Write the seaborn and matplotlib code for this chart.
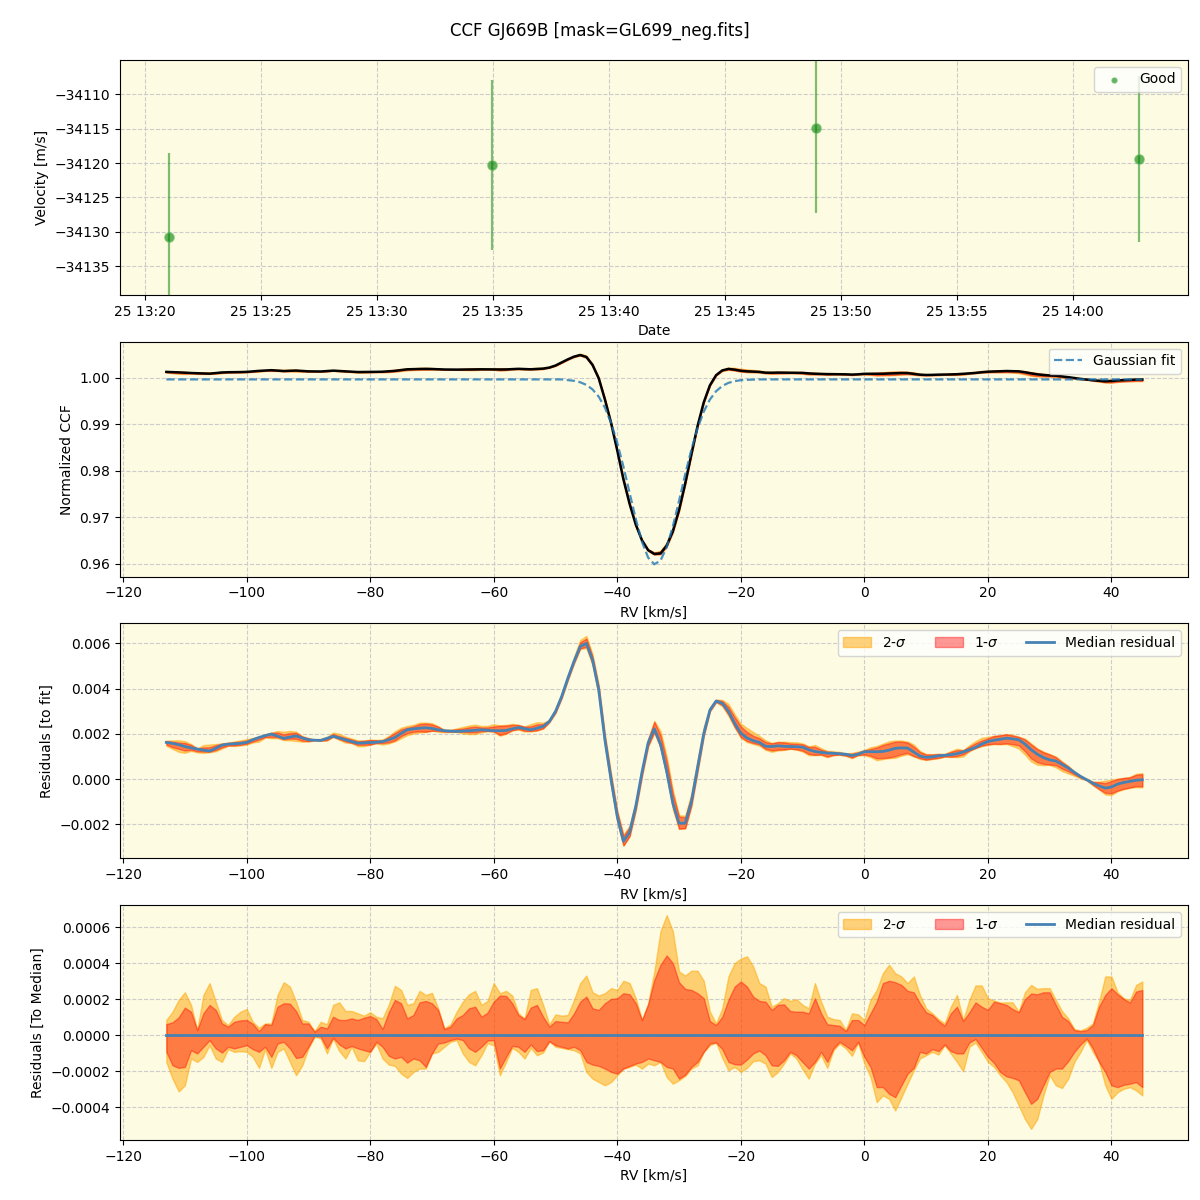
import numpy as np
import pandas as pd
import matplotlib
matplotlib.use("Agg")
import matplotlib.pyplot as plt
import matplotlib.dates as mdates
import seaborn as sns

# ---------------- data ----------------
title = "CCF GJ669B [mask=GL699_neg.fits]"

obs_times = ["2023-06-25 13:21:02", "2023-06-25 13:34:58",
             "2023-06-25 13:48:55", "2023-06-25 14:02:51"]
velocity = [-34130.8, -34120.3, -34114.9, -34119.4]
velocity_err = [12.2, 12.3, 12.3, 12.1]

rv_start, rv_stop = -113, 45          # RV grid (km/s), 1 km/s step

gauss_dip = [0.99949, 0.99933, 0.99902, 0.99846, 0.99748, 0.99592, 0.99358, 0.99028,
             0.98600, 0.98086, 0.97520, 0.96958, 0.96472, 0.96129, 0.95986, 0.96064,
             0.96351, 0.96801, 0.97348, 0.97920, 0.98454, 0.98910, 0.99269, 0.99531,
             0.99709, 0.99822, 0.99889, 0.99926, 0.99946, 0.99955, 0.99960]
gauss_fit = [0.99963] * 65 + gauss_dip + [0.99963] * 63

# median residual to the fit (units of 1e-3)
median_resid = [
    1.62, 1.58, 1.52, 1.44, 1.38, 1.33, 1.28, 1.24, 1.36, 1.50,
    1.55, 1.56, 1.58, 1.62, 1.74, 1.84, 1.92, 1.99, 1.90, 1.80,
    1.86, 1.91, 1.82, 1.74, 1.72, 1.71, 1.80, 1.89, 1.82, 1.74,
    1.66, 1.59, 1.60, 1.62, 1.63, 1.66, 1.74, 1.84, 2.02, 2.18,
    2.22, 2.25, 2.27, 2.24, 2.18, 2.14, 2.12, 2.11, 2.12, 2.14,
    2.16, 2.18, 2.16, 2.14, 2.14, 2.15, 2.22, 2.28, 2.23, 2.18,
    2.25, 2.33, 2.55, 2.99, 3.65, 4.46, 5.20, 5.86, 6.00, 5.27,
    3.95, 1.74, -0.03, -1.65, -2.75, -2.35, -1.20, 0.30, 1.60, 2.22,
    1.55, 0.35, -1.06, -1.95, -1.95, -1.00, 0.50, 2.00, 3.05, 3.45,
    3.35, 3.00, 2.47, 2.03, 1.82, 1.70, 1.62, 1.45, 1.44, 1.47,
    1.45, 1.44, 1.43, 1.41, 1.30, 1.22, 1.18, 1.15, 1.14, 1.12,
    1.10, 1.04, 1.10, 1.21, 1.21, 1.21, 1.22, 1.28, 1.36, 1.38,
    1.37, 1.20, 1.02, 0.96, 0.98, 1.03, 1.05, 1.08, 1.12, 1.20,
    1.30, 1.40, 1.55, 1.66, 1.72, 1.76, 1.81, 1.78, 1.74, 1.55,
    1.30, 1.10, 0.95, 0.85, 0.80, 0.65, 0.49, 0.30, 0.12, -0.03,
    -0.18, -0.30, -0.40, -0.35, -0.22, -0.15, -0.10, -0.05, -0.03]

# spread around the median (units of 1e-4)
hi2 = [
    0.84, 1.30, 1.96, 2.38, 1.68, 0.28, 2.23, 2.89, 1.86, 0.84,
    0.56, 1.02, 1.30, 1.45, 0.74, 0.41, 0.65, 0.65, 2.23, 2.94,
    2.70, 1.86, 0.84, 0.74, 0.22, 0.74, 0.60, 1.68, 1.82, 1.34,
    1.34, 1.21, 1.08, 1.27, 1.02, 0.93, 1.68, 2.74, 2.51, 1.68,
    1.77, 2.46, 2.23, 2.35, 1.49, 0.37, 0.60, 1.30, 1.86, 2.27,
    2.46, 1.68, 1.90, 2.89, 2.33, 2.46, 2.20, 1.21, 0.93, 2.51,
    2.61, 1.68, 0.60, 1.15, 1.08, 1.12, 1.96, 2.89, 3.31, 2.38,
    2.20, 2.33, 2.61, 2.51, 3.02, 2.89, 2.05, 0.84, 1.77, 3.54,
    5.77, 6.67, 5.77, 3.54, 3.31, 3.58, 3.58, 3.02, 1.30, 0.65,
    1.49, 3.26, 4.00, 4.25, 4.38, 3.82, 2.89, 2.70, 1.58, 1.77,
    2.05, 1.90, 2.00, 1.68, 1.49, 2.89, 1.86, 1.02, 0.89, 0.84,
    0.28, 1.21, 1.15, 0.84, 1.96, 2.51, 3.44, 3.91, 3.44, 3.26,
    2.89, 3.26, 2.23, 1.49, 1.21, 0.89, 0.65, 1.58, 2.23, 0.84,
    1.96, 2.76, 2.76, 2.05, 1.92, 1.81, 1.82, 1.82, 1.30, 2.38,
    2.79, 2.57, 2.61, 2.61, 1.96, 1.34, 0.93, 0.34, 0.26, 0.41,
    0.65, 1.86, 3.26, 3.26, 2.38, 2.05, 1.96, 2.79, 2.98]
hi1 = [
    0.61, 0.71, 0.99, 1.53, 1.30, 0.28, 1.21, 1.68, 1.40, 0.65,
    0.47, 0.74, 0.82, 0.84, 0.63, 0.22, 0.61, 0.56, 1.58, 1.77,
    1.75, 1.34, 0.65, 0.65, 0.19, 0.47, 0.37, 1.02, 0.84, 0.84,
    0.93, 0.84, 0.97, 1.06, 0.89, 0.34, 1.27, 1.96, 1.77, 0.93,
    1.12, 1.82, 1.90, 1.77, 1.40, 0.34, 0.47, 0.93, 1.12, 1.49,
    1.58, 1.02, 1.25, 1.86, 2.20, 2.18, 1.77, 1.12, 0.89, 1.53,
    1.68, 1.02, 0.47, 0.78, 0.74, 0.71, 1.21, 1.86, 2.14, 1.49,
    1.40, 1.77, 2.01, 2.05, 2.33, 2.27, 1.77, 0.84, 1.71, 3.07,
    3.91, 4.43, 4.00, 2.94, 2.57, 2.51, 2.33, 2.05, 0.78, 0.56,
    1.02, 1.96, 2.70, 2.98, 2.70, 2.14, 1.90, 1.86, 1.40, 1.68,
    1.71, 1.34, 1.30, 1.30, 1.21, 2.05, 1.21, 0.60, 0.56, 0.52,
    0.22, 0.84, 0.84, 0.56, 1.21, 1.86, 2.89, 3.02, 2.94, 2.79,
    2.46, 2.38, 1.77, 1.27, 1.12, 0.78, 0.52, 1.21, 1.58, 0.78,
    1.27, 1.82, 1.58, 1.40, 1.86, 1.77, 1.68, 1.45, 1.27, 2.00,
    2.31, 2.27, 2.38, 2.38, 1.68, 1.02, 0.78, 0.28, 0.22, 0.28,
    0.56, 1.58, 2.23, 2.61, 2.27, 2.01, 1.81, 2.42, 2.51]
lo1 = [
    -0.93, -1.68, -1.82, -1.77, -0.84, -1.02, -0.65, -0.28, -0.74, -0.97,
    -0.65, -0.74, -0.65, -0.56, -0.78, -0.93, -0.65, -1.21, -0.47, -0.37,
    -0.74, -1.27, -1.21, -0.65, -0.04, -0.09, -0.74, -0.15, -0.52, -0.74,
    -0.60, -0.74, -0.84, -0.93, -0.37, -0.65, -1.15, -1.30, -1.21, -1.53,
    -1.30, -1.40, -1.77, -1.02, -0.47, -0.41, -0.28, -0.19, -0.28, -0.74,
    -0.93, -0.65, -0.30, -0.28, -1.86, -1.21, -0.60, -0.65, -0.93, -0.52,
    -0.89, -0.84, -0.34, -0.56, -0.65, -0.74, -0.65, -0.84, -1.49, -1.64,
    -1.71, -1.86, -2.05, -2.14, -1.86, -1.71, -1.58, -1.49, -1.30, -1.40,
    -1.49, -1.77, -1.86, -2.42, -2.20, -1.77, -1.49, -0.93, -0.47, -0.41,
    -0.78, -1.49, -1.62, -1.64, -1.36, -1.02, -0.86, -1.12, -1.68, -1.71,
    -1.40, -0.93, -1.12, -1.50, -1.86, -1.49, -0.93, -1.49, -0.74, -0.37,
    -0.60, -0.84, -0.37, -1.21, -1.77, -2.89, -2.89, -3.26, -3.45, -2.79,
    -2.14, -1.82, -0.93, -1.02, -0.78, -0.89, -0.52, -0.89, -1.02, -1.02,
    -0.41, -0.22, -0.71, -1.21, -1.55, -2.05, -2.29, -2.38, -2.51, -3.17,
    -3.82, -3.54, -2.79, -2.05, -1.86, -1.86, -1.45, -0.93, -0.52, -0.19,
    -0.74, -1.49, -2.05, -2.79, -2.89, -2.76, -2.70, -2.61, -2.89]
lo2 = [
    -1.49, -2.42, -3.13, -2.79, -1.30, -1.49, -1.21, -0.56, -1.30, -1.49,
    -0.78, -0.93, -0.89, -0.93, -1.21, -1.82, -0.78, -1.82, -0.93, -0.74,
    -1.49, -2.23, -1.68, -0.74, -0.09, -0.19, -1.02, -0.19, -0.89, -1.30,
    -0.65, -1.40, -1.45, -0.93, -0.47, -1.30, -1.64, -1.71, -2.14, -2.38,
    -2.05, -1.86, -1.86, -1.02, -0.93, -0.65, -0.37, -0.28, -1.02, -1.49,
    -1.68, -1.12, -0.45, -0.56, -2.23, -1.49, -0.71, -0.93, -1.30, -0.71,
    -1.12, -0.97, -0.34, -0.65, -0.71, -0.78, -0.84, -1.02, -2.05, -2.42,
    -2.61, -2.79, -2.61, -2.23, -1.86, -1.77, -1.64, -1.86, -1.58, -1.68,
    -1.49, -2.33, -2.70, -2.51, -2.27, -1.86, -1.68, -0.93, -0.56, -0.41,
    -1.27, -1.96, -1.77, -2.05, -1.82, -1.45, -1.40, -1.58, -2.33, -2.05,
    -1.58, -1.02, -1.30, -1.90, -2.42, -1.58, -1.12, -1.82, -0.84, -0.47,
    -0.74, -1.15, -0.41, -1.58, -2.33, -3.72, -3.35, -3.54, -4.19, -3.45,
    -2.70, -1.96, -1.30, -1.12, -0.93, -1.08, -0.56, -1.02, -1.49, -2.01,
    -0.65, -0.41, -0.93, -1.49, -1.77, -2.23, -2.61, -3.17, -3.91, -4.66,
    -5.21, -4.66, -3.35, -2.23, -2.79, -2.94, -2.42, -1.49, -0.93, -0.26,
    -0.93, -1.49, -2.79, -3.54, -3.17, -2.98, -2.89, -3.07, -3.35]

# ---------------- derived arrays ----------------
rv = np.arange(rv_start, rv_stop + 1, dtype=float)
gauss = np.array(gauss_fit)
res = np.array(median_resid) * 1e-3
h2, h1 = np.array(hi2) * 1e-4, np.array(hi1) * 1e-4
l1, l2 = np.array(lo1) * 1e-4, np.array(lo2) * 1e-4
ccf = gauss + res
zero = res - res

times = pd.to_datetime(obs_times)

# ---------------- styling ----------------
bg = "#fdfbe1"
grid_kw = dict(linestyle="--", color="#cccccc", linewidth=0.8)
c_orange = "orange"
c_red = "red"
c_med = "#4682b4"
xlim_rv = (-120.5, 52.4)

fig, axes = plt.subplots(4, 1, figsize=(12, 12), dpi=100)
fig.subplots_adjust(left=0.1, right=0.99, top=0.95, bottom=0.05, hspace=0.2)
fig.suptitle(title, fontsize=12, y=0.982)

for ax in axes:
    ax.set_facecolor(bg)
    ax.grid(True, **grid_kw)
    ax.set_axisbelow(True)

# Panel 1: velocities
ax = axes[0]
ax.errorbar(times, velocity, yerr=velocity_err, fmt="none", ecolor="green",
            alpha=0.5, elinewidth=1.6, zorder=2)
sns.scatterplot(x=times, y=velocity, color="green", alpha=0.6, s=45,
                edgecolor="#5cb85c", linewidth=1.0, ax=ax, label="Good", zorder=3)
ax.set_ylim(-34139.15, -34105.02)
ax.ticklabel_format(axis="y", useOffset=False, style="plain")
ax.xaxis.set_major_locator(mdates.MinuteLocator(byminute=range(0, 60, 5)))
ax.xaxis.set_major_formatter(mdates.DateFormatter("%d %H:%M"))
ax.set_xlabel("Date")
ax.set_ylabel("Velocity [m/s]")
ax.legend(loc="upper right", markerscale=0.55)

# Panel 2: CCF + Gaussian fit
ax = axes[1]
ax.fill_between(rv, ccf + l2, ccf + h2, color=c_orange, alpha=0.5, lw=1)
ax.fill_between(rv, ccf + l1, ccf + h1, color=c_red, alpha=0.4, lw=1)
sns.lineplot(x=rv, y=ccf, color="black", lw=1.8, ax=ax, zorder=4)
sns.lineplot(x=rv, y=gauss, color="C0", alpha=0.8, lw=1.6, ax=ax,
             linestyle="--", label="Gaussian fit", zorder=5)
ax.set_xlim(*xlim_rv)
ax.set_ylim(0.95722, 1.00774)
ax.set_xlabel("RV [km/s]")
ax.set_ylabel("Normalized CCF")
ax.legend(loc="upper right")

# Panel 3: residuals to fit
ax = axes[2]
ax.fill_between(rv, res + l2, res + h2, color=c_orange, alpha=0.5, lw=1, label="2-$\\sigma$")
ax.fill_between(rv, res + l1, res + h1, color=c_red, alpha=0.4, lw=1, label="1-$\\sigma$")
sns.lineplot(x=rv, y=res, color=c_med, lw=2, ax=ax, label="Median residual", zorder=4)
ax.set_xlim(*xlim_rv)
ax.set_ylim(-0.0035, 0.00688)
ax.set_xlabel("RV [km/s]")
ax.set_ylabel("Residuals [to fit]")
h, lab = ax.get_legend_handles_labels()
ax.legend(h, lab, loc="upper right", ncol=3)

# Panel 4: residuals to median
ax = axes[3]
ax.fill_between(rv, l2, h2, color=c_orange, alpha=0.5, lw=1, label="2-$\\sigma$")
ax.fill_between(rv, l1, h1, color=c_red, alpha=0.4, lw=1, label="1-$\\sigma$")
sns.lineplot(x=rv, y=zero, color=c_med, lw=2, ax=ax, label="Median residual", zorder=4)
ax.set_xlim(*xlim_rv)
ax.set_ylim(-0.000583, 0.000722)
ax.set_xlabel("RV [km/s]")
ax.set_ylabel("Residuals [To Median]")
h, lab = ax.get_legend_handles_labels()
ax.legend(h, lab, loc="upper right", ncol=3)

fig.savefig("out.png", dpi=100, facecolor="white")
